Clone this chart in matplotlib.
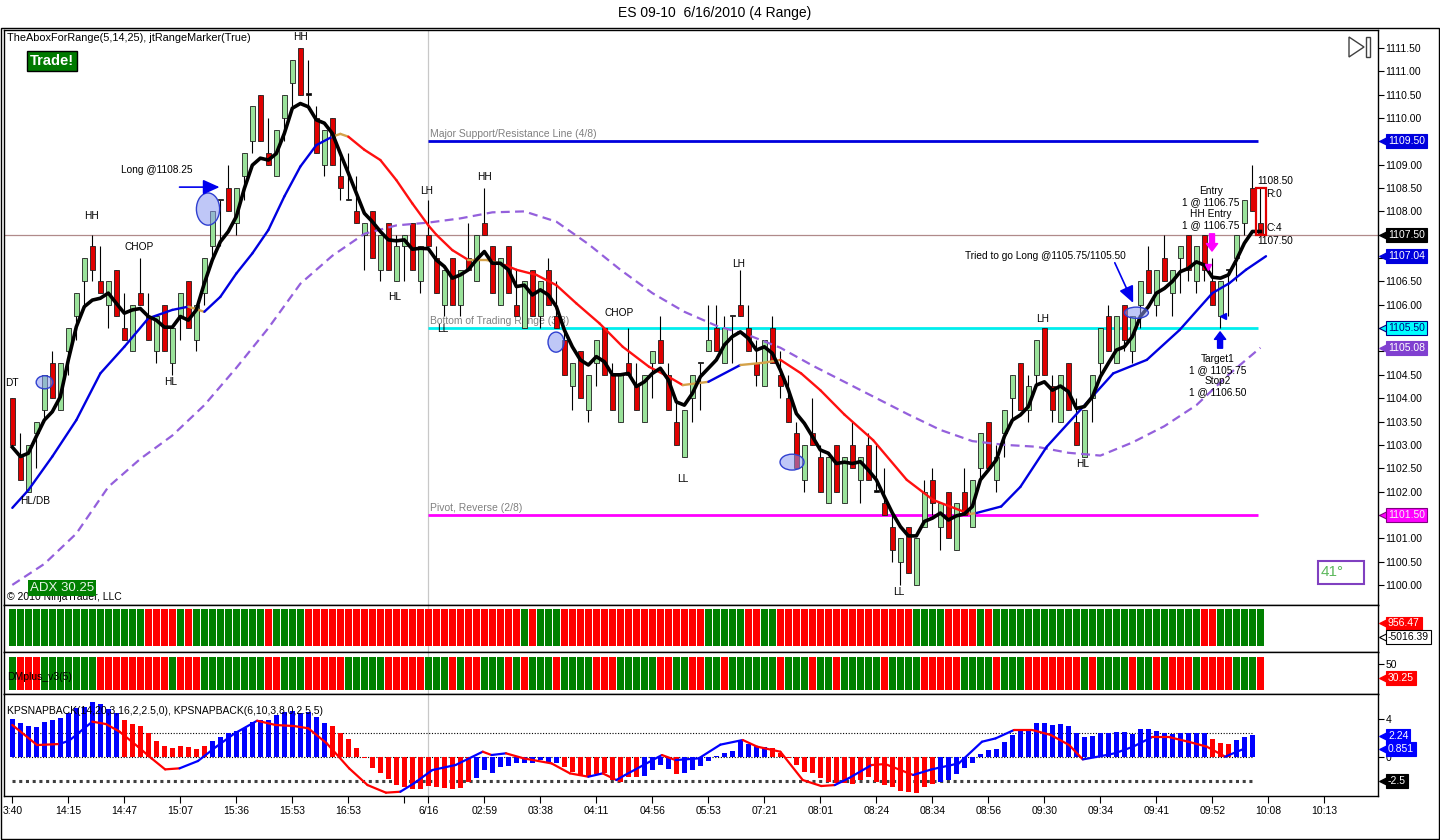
import numpy as np
import matplotlib
matplotlib.use('Agg')
import matplotlib.pyplot as plt
import matplotlib.transforms as mtransforms
from matplotlib.patches import Ellipse, Rectangle, Polygon
from matplotlib.collections import LineCollection

plt.rcParams['font.family'] = ['Liberation Sans', 'DejaVu Sans']

# ES 09-10, 4 tick range bars (bar index 0 = first bar on screen)
opens = [1104.0, 1102.75, 1102.0, 1103.25, 1103.75, 1104.75, 1103.75, 1105.0, 1105.75, 1106.5,
         1107.25, 1106.5, 1106.0, 1106.75, 1105.5, 1105.0, 1106.25, 1105.75, 1105.0, 1106.0,
         1104.75, 1105.75, 1106.5, 1105.25, 1106.25, 1107.25, 1108.25, 1108.5, 1107.75, 1108.75,
         1109.5, 1110.5, 1109.25, 1108.75, 1110.0, 1110.75, 1111.5, 1110.5, 1110.0, 1109.0,
         1110.0, 1108.75, 1108.25, 1108.0, 1107.5, 1108.0, 1106.75, 1107.75, 1106.5, 1107.25,
         1107.75, 1106.5, 1107.5, 1107.0, 1106.0, 1107.0, 1106.0, 1107.0, 1106.5, 1107.75,
         1107.25, 1106.0, 1107.25, 1106.0, 1105.5, 1106.75, 1105.75, 1106.75, 1105.75, 1105.25,
         1104.25, 1105.0, 1103.75, 1104.75, 1105.5, 1104.5, 1103.5, 1104.75, 1104.25, 1103.5,
         1104.75, 1105.25, 1104.5, 1103.5, 1102.75, 1104.0, 1104.75, 1105.0, 1105.5, 1104.75,
         1105.75, 1106.0, 1105.5, 1104.75, 1104.25, 1105.5, 1104.5, 1104.0, 1103.25, 1102.25,
         1103.25, 1102.75, 1101.75, 1103.0, 1101.75, 1103.0, 1102.25, 1103.0, 1102.0, 1101.75,
         1101.25, 1100.5, 1101.25, 1100.0, 1101.25, 1102.25, 1101.25, 1102.0, 1100.75, 1102.0,
         1101.25, 1102.5, 1103.5, 1102.25, 1103.25, 1104.0, 1104.75, 1103.75, 1104.5, 1105.5,
         1104.25, 1103.5, 1104.75, 1103.5, 1102.75, 1104.0, 1104.75, 1105.75, 1104.75, 1106.0,
         1105.0, 1106.0, 1106.75, 1106.0, 1107.0, 1106.25, 1107.0, 1107.5, 1106.5, 1107.5,
         1106.5, 1105.75, 1106.75, 1107.0, 1107.75, 1108.5, 1107.75]
highs = [1104.0, 1103.25, 1103.0, 1103.5, 1104.5, 1105.0, 1104.75, 1105.5, 1106.25, 1107.0,
         1107.5, 1107.25, 1106.5, 1106.75, 1106.25, 1106.0, 1107.0, 1106.25, 1105.75, 1106.0,
         1105.5, 1106.25, 1106.5, 1106.0, 1107.0, 1108.0, 1108.25, 1109.0, 1108.5, 1109.25,
         1110.25, 1110.5, 1110.0, 1109.75, 1110.5, 1111.25, 1111.5, 1111.25, 1110.25, 1109.75,
         1110.0, 1109.25, 1109.25, 1108.75, 1107.75, 1108.0, 1107.5, 1107.75, 1107.5, 1107.5,
         1107.75, 1107.25, 1108.25, 1107.25, 1106.75, 1107.0, 1106.75, 1107.75, 1107.5, 1108.5,
         1107.25, 1107.0, 1107.25, 1106.75, 1106.5, 1106.75, 1106.5, 1107.0, 1106.5, 1105.5,
         1104.75, 1105.0, 1104.5, 1105.25, 1105.5, 1104.75, 1104.5, 1105.5, 1104.75, 1104.5,
         1105.0, 1105.75, 1104.75, 1104.0, 1103.75, 1104.5, 1104.75, 1106.0, 1106.0, 1105.75,
         1105.75, 1106.75, 1106.0, 1105.25, 1105.25, 1105.75, 1105.0, 1104.5, 1103.5, 1103.0,
         1104.0, 1103.0, 1102.75, 1103.0, 1102.75, 1103.5, 1102.75, 1103.25, 1103.0, 1102.5,
         1101.5, 1101.0, 1101.25, 1101.0, 1102.25, 1102.5, 1101.75, 1102.0, 1101.75, 1102.5,
         1102.25, 1103.25, 1103.5, 1103.0, 1103.75, 1104.5, 1104.75, 1104.5, 1105.25, 1105.5,
         1104.5, 1104.5, 1104.75, 1104.0, 1103.75, 1104.5, 1105.5, 1106.0, 1105.75, 1106.0,
         1105.75, 1106.5, 1107.25, 1106.75, 1107.5, 1106.75, 1107.25, 1107.5, 1107.25, 1107.5,
         1107.0, 1106.5, 1106.75, 1107.5, 1108.25, 1109.0, 1108.5]
lows = [1103.0, 1102.25, 1102.0, 1102.5, 1103.5, 1104.0, 1103.75, 1104.5, 1105.25, 1106.0,
        1106.5, 1106.25, 1105.5, 1105.75, 1105.25, 1105.0, 1106.0, 1105.25, 1104.75, 1105.0,
        1104.5, 1105.25, 1105.5, 1105.0, 1106.0, 1107.0, 1107.25, 1108.0, 1107.5, 1108.25,
        1109.25, 1109.5, 1109.0, 1108.75, 1109.5, 1110.25, 1110.5, 1110.25, 1109.25, 1108.75,
        1109.0, 1108.25, 1108.25, 1107.75, 1106.75, 1107.0, 1106.5, 1106.75, 1106.5, 1106.5,
        1106.75, 1106.25, 1107.25, 1106.25, 1105.75, 1106.0, 1105.75, 1106.75, 1106.5, 1107.5,
        1106.25, 1106.0, 1106.25, 1105.75, 1105.5, 1105.75, 1105.5, 1106.0, 1105.5, 1104.5,
        1103.75, 1104.0, 1103.5, 1104.25, 1104.5, 1103.75, 1103.5, 1104.5, 1103.75, 1103.5,
        1104.0, 1104.75, 1103.75, 1103.0, 1102.75, 1103.5, 1103.75, 1105.0, 1105.0, 1104.75,
        1104.75, 1105.75, 1105.0, 1104.25, 1104.25, 1104.75, 1104.0, 1103.5, 1102.5, 1102.0,
        1103.0, 1102.0, 1101.75, 1102.0, 1101.75, 1102.5, 1101.75, 1102.25, 1102.0, 1101.5,
        1100.5, 1100.0, 1100.25, 1100.0, 1101.25, 1101.5, 1100.75, 1101.0, 1100.75, 1101.5,
        1101.25, 1102.25, 1102.5, 1102.0, 1102.75, 1103.5, 1103.75, 1103.5, 1104.25, 1104.5,
        1103.5, 1103.5, 1103.75, 1103.0, 1102.75, 1103.5, 1104.5, 1105.0, 1104.75, 1105.0,
        1104.75, 1105.5, 1106.25, 1105.75, 1106.5, 1105.75, 1106.25, 1106.5, 1106.25, 1106.5,
        1106.0, 1105.5, 1105.75, 1106.5, 1107.5, 1108.0, 1107.5]
closes = [1103.0, 1102.25, 1103.0, 1103.5, 1104.5, 1104.0, 1104.75, 1105.5, 1106.25, 1107.0,
          1106.75, 1106.25, 1106.5, 1105.75, 1105.25, 1106.0, 1106.0, 1105.25, 1105.75, 1105.0,
          1105.5, 1106.25, 1105.5, 1106.0, 1107.0, 1108.0, 1108.25, 1108.0, 1108.5, 1109.25,
          1110.25, 1109.5, 1109.0, 1109.75, 1110.5, 1111.25, 1110.5, 1110.5, 1109.25, 1109.75,
          1109.0, 1108.5, 1108.25, 1107.75, 1107.75, 1107.0, 1107.5, 1106.75, 1107.25, 1107.5,
          1106.75, 1107.25, 1107.25, 1106.25, 1106.75, 1106.0, 1106.75, 1106.75, 1107.5, 1107.5,
          1106.25, 1107.0, 1106.25, 1105.75, 1106.5, 1105.75, 1106.5, 1106.0, 1105.5, 1104.5,
          1104.75, 1104.0, 1104.5, 1105.25, 1104.5, 1103.75, 1104.5, 1104.5, 1103.75, 1104.5,
          1105.0, 1104.75, 1103.75, 1103.0, 1103.75, 1104.5, 1104.75, 1105.25, 1105.0, 1105.5,
          1105.75, 1105.75, 1105.0, 1104.5, 1105.25, 1104.75, 1104.25, 1103.5, 1102.5, 1103.0,
          1103.0, 1102.0, 1102.75, 1102.0, 1102.75, 1102.5, 1102.75, 1102.25, 1102.0, 1101.5,
          1100.75, 1101.0, 1100.25, 1101.0, 1102.0, 1101.75, 1101.75, 1101.0, 1101.75, 1101.5,
          1102.25, 1103.25, 1102.5, 1102.75, 1103.75, 1104.5, 1103.75, 1104.25, 1105.25, 1104.5,
          1103.75, 1104.5, 1103.75, 1103.0, 1103.75, 1104.5, 1105.5, 1105.0, 1105.75, 1105.25,
          1105.75, 1106.5, 1106.25, 1106.75, 1106.5, 1106.75, 1107.25, 1106.75, 1107.25, 1106.75,
          1106.0, 1106.5, 1106.75, 1107.5, 1108.25, 1108.0, 1107.5]

# black fast line (5), one value per bar
fast_ma = [1102.95, 1102.75, 1102.82, 1103.18, 1103.53, 1103.71, 1104.03, 1104.82, 1105.53, 1105.96,
           1106.10, 1106.14, 1106.25, 1106.03, 1105.82, 1105.89, 1105.92, 1105.75, 1105.67, 1105.52,
           1105.52, 1105.75, 1105.67, 1105.89, 1106.46, 1106.96, 1107.35, 1107.57, 1107.89, 1108.49,
           1108.99, 1109.14, 1109.10, 1109.24, 1109.67, 1110.21, 1110.31, 1110.24, 1109.96, 1109.89,
           1109.67, 1109.24, 1108.82, 1108.39, 1107.96, 1107.78, 1107.57, 1107.39, 1107.37, 1107.39,
           1107.19, 1107.21, 1107.20, 1106.96, 1106.82, 1106.57, 1106.64, 1106.75, 1106.96, 1107.14,
           1106.89, 1106.89, 1106.75, 1106.39, 1106.42, 1106.21, 1106.32, 1106.21, 1105.96, 1105.46,
           1105.10, 1104.82, 1104.71, 1104.89, 1104.78, 1104.50, 1104.50, 1104.53, 1104.25, 1104.35,
           1104.53, 1104.64, 1104.39, 1103.92, 1103.85, 1104.10, 1104.46, 1104.64, 1104.82, 1105.14,
           1105.32, 1105.42, 1105.28, 1105.03, 1105.10, 1104.96, 1104.60, 1104.18, 1103.67, 1103.46,
           1103.18, 1102.89, 1102.82, 1102.60, 1102.63, 1102.60, 1102.64, 1102.46, 1102.25, 1101.89,
           1101.54, 1101.25, 1101.05, 1101.05, 1101.36, 1101.43, 1101.54, 1101.39, 1101.48, 1101.52,
           1101.68, 1102.25, 1102.46, 1102.68, 1103.18, 1103.53, 1103.64, 1103.82, 1104.28, 1104.35,
           1104.17, 1104.26, 1104.14, 1103.78, 1103.82, 1104.03, 1104.46, 1104.75, 1105.03, 1105.10,
           1105.32, 1105.75, 1105.96, 1106.25, 1106.35, 1106.50, 1106.71, 1106.78, 1106.92, 1106.85,
           1106.59, 1106.57, 1106.64, 1106.96, 1107.32, 1107.57, 1107.57]

# 14 line, coloured by trend state
trend_x = [0, 2, 5, 8, 11, 14, 17, 20, 22, 24, 26, 28, 30, 32, 34, 36, 38, 40, 41, 42, 44, 46, 48, 50,
           52, 53, 55, 57, 59.3, 61.6, 63, 65.5, 68, 70.5, 73.4, 76.3, 79.6, 82, 83.8, 87, 91, 94, 96,
           98.6, 101, 104, 107.6, 111.8, 115.1, 117.2, 119.7, 120.5, 123.6, 126, 129.3, 133.5, 137.6,
           141.8, 145.9, 150, 152.1, 154.2, 156.7]
trend_y = [1101.65, 1102.03, 1102.75, 1103.53, 1104.53, 1105.10, 1105.71, 1105.89, 1105.96, 1105.85,
           1106.17, 1106.67, 1107.10, 1107.60, 1108.32, 1108.96, 1109.42, 1109.60, 1109.66, 1109.60,
           1109.32, 1109.10, 1108.67, 1108.17, 1107.70, 1107.50, 1107.17, 1106.96, 1106.96, 1106.85,
           1106.75, 1106.64, 1106.42, 1106.03, 1105.60, 1105.10, 1104.67, 1104.46, 1104.28, 1104.35,
           1104.71, 1104.76, 1104.82, 1104.53, 1104.17, 1103.65, 1103.10, 1102.25, 1101.82, 1101.68,
           1101.52, 1101.54, 1101.68, 1102.10, 1102.96, 1103.75, 1104.53, 1104.82, 1105.46, 1106.25,
           1106.46, 1106.75, 1107.04]
trend_turns = [21, 24, 40, 42, 57, 62, 84, 87, 91, 96, 119.7, 120.5]
trend_modes = ['up', 'flat', 'up', 'flat', 'down', 'flat', 'down', 'flat', 'up', 'flat', 'down', 'flat', 'up']

# slow dashed line
slow_x = [0, 4, 8, 12, 16, 20, 24, 28, 32, 36, 40, 44, 48, 52, 56, 60, 64, 68, 72, 76, 80, 84, 88, 92,
          96, 100, 104, 108, 112, 116, 120, 124, 128, 132, 136, 140, 144, 148, 152, 156]
slow_y = [1100.0, 1100.45, 1101.1, 1102.1, 1102.7, 1103.2, 1103.85, 1104.65, 1105.5, 1106.45,
          1107.05, 1107.52, 1107.7, 1107.76, 1107.85, 1107.98, 1108.0, 1107.78, 1107.3, 1106.75,
          1106.25, 1105.85, 1105.55, 1105.35, 1105.08, 1104.7, 1104.35, 1104.0, 1103.65, 1103.32,
          1103.08, 1103.0, 1102.96, 1102.83, 1102.77, 1103.05, 1103.4, 1103.85, 1104.5, 1105.08]

session_bar = 52
levels = [1109.5, 1105.5, 1101.5]
level_names = ['Major Support/Resistance Line (4/8)', 'Bottom of Trading Range (3/8)', 'Pivot, Reverse (2/8)']
level_colors = ['#0000dd', '#00eeee', '#ff00ff']
last_price = 1107.5

tick_bars = [0, 7, 14, 21, 28, 35, 42, 49, 52, 59, 66, 73, 80, 87, 94, 101, 108, 115, 122, 129, 136, 143, 150, 157, 164]
tick_labels = ['3:40', '14:15', '14:47', '15:07', '15:36', '15:53', '16:53', '', '6/16', '02:59', '03:38',
               '04:11', '04:56', '05:53', '07:21', '08:01', '08:24', '08:34', '08:56', '09:30', '09:34',
               '09:41', '09:52', '10:08', '10:13']

# green(1) / red(0) runs of the two colour-bar panels
trend_bar_runs = [(1, 17), (0, 4), (1, 1), (0, 1), (1, 9), (0, 1), (1, 4), (0, 27), (1, 1), (0, 1), (1, 3),
                  (0, 18), (1, 5), (0, 2), (1, 2), (0, 17), (1, 4), (0, 4), (1, 1), (0, 1), (1, 26), (0, 2), (1, 6)]
dm_runs = [(1, 1), (0, 3), (1, 7), (0, 9), (1, 1), (0, 3), (1, 8), (0, 2), (1, 3), (0, 5), (1, 5), (0, 5),
           (1, 3), (0, 1), (1, 1), (0, 2), (1, 3), (0, 1), (1, 1), (0, 1), (1, 3), (0, 1), (1, 4), (0, 3),
           (1, 5), (0, 2), (1, 2), (0, 2), (1, 2), (0, 1), (1, 6), (0, 1), (1, 3), (0, 1), (1, 2), (0, 1),
           (1, 5), (0, 1), (1, 4), (0, 5), (1, 4), (0, 1), (1, 3), (0, 7), (1, 1), (0, 1), (1, 4), (0, 1),
           (1, 2), (0, 1), (1, 1), (0, 3), (1, 1), (0, 4), (1, 3), (0, 1)]

# KPSNAPBACK histogram and line
snap_hist = [4.0, 3.54, 3.26, 3.19, 3.68, 3.89, 4.07, 4.6, 5.2, 5.3,
             5.8, 5.6, 5.1, 4.6, 3.9, 3.47, 3.26, 2.5, 1.68, 1.19,
             0.98, 1.16, 1.09, 0.84, 1.16, 1.72, 2.14, 2.49, 2.74, 3.09,
             3.72, 3.89, 3.89, 4.42, 4.77, 4.84, 4.67, 4.77, 4.25, 3.6,
             3.26, 2.56, 1.86, 0.91, -0.1, -1.19, -1.72, -2.35, -2.95, -3.12,
             -3.33, -3.4, -3.05, -3.19, -3.3, -3.4, -3.23, -2.6, -2.25, -1.37,
             -1.72, -1.02, -0.95, -0.67, -0.6, -0.67, -0.32, -0.49, -0.6, -1.02,
             -1.54, -2.0, -2.07, -1.79, -1.72, -2.42, -2.6, -2.07, -2.14, -2.0,
             -1.37, -0.84, -1.3, -1.79, -1.72, -1.37, -0.95, -0.39, 0.1, 0.4,
             0.67, 1.72, 1.37, 1.16, 1.09, 0.9, 0.4, -0.1, -0.84, -1.54,
             -1.65, -2.25, -2.6, -2.77, -2.7, -2.84, -2.42, -2.14, -2.6, -2.95,
             -3.19, -3.54, -3.65, -3.75, -3.12, -2.84, -2.6, -2.42, -1.79, -1.19,
             -0.6, 0.32, 0.74, 0.81, 1.61, 2.32, 2.77, 2.91, 3.54, 3.61,
             3.37, 3.47, 3.26, 2.56, 2.14, 2.21, 2.49, 2.49, 2.63, 2.6,
             2.42, 2.91, 2.91, 2.77, 2.49, 2.42, 2.56, 2.56, 2.49, 2.49,
             1.86, 1.51, 1.37, 1.79, 2.14, 2.32]
snap_hist_runs = [(1, 14), (0, 11), (1, 15), (0, 18), (1, 11), (0, 10), (1, 4), (0, 1), (1, 11), (0, 21),
                  (1, 34), (0, 3), (1, 3)]
snap_line_x = [0, 3.1, 5.9, 7.1, 10.0, 11.7, 13.4, 15.7, 17.4, 19.1, 20.9, 23.2, 25.5, 27.8, 30.6, 32.9,
               35.2, 37.0, 39.3, 42.1, 44.4, 46.7, 48.5, 50.2, 52.5, 55.4, 58.8, 59.9, 61.7, 63.9, 67.4,
               69.7, 72.0, 73.8, 75.5, 76.6, 78.9, 81.2, 82.9, 85.8, 88.5, 91.3, 93.1, 96.0, 98.8, 101.1,
               102.8, 104.5, 107.4, 109.1, 112.6, 114.9, 118.3, 121.2, 122.9, 125.2, 127.5, 129.8, 132.1,
               133.8, 136.1, 137.8, 140.1, 142.4, 144.7, 147.0, 149.3, 151.6, 153.9]
snap_line_y = [3.37, 1.26, 1.37, 1.72, 3.72, 3.47, 2.67, 1.09, -0.14, -1.30, -1.19, -0.42, 1.09, 2.49,
               3.82, 3.37, 3.26, 3.02, 1.44, -1.19, -2.95, -3.75, -3.65, -2.77, -1.37, -0.84, 0.56, 0.21,
               0.39, -0.14, -0.67, -1.72, -2.07, -1.72, -2.42, -1.89, -0.84, 0.21, -0.32, -0.14, 1.30,
               1.79, 1.09, 0.56, -2.42, -3.05, -2.95, -2.25, -0.84, -0.74, -1.89, -1.30, -0.67, 1.61,
               1.96, 2.84, 2.84, 2.32, 1.26, -0.25, 0.10, 0.39, 1.09, 2.07, 2.07, 1.61, 1.09, 0.04, 0.85]

# chart notes (bar index, price)
marks_text = ['HH', 'HH', 'CHOP', 'HL', 'DT', 'HL/DB', 'LH', 'HH', 'HL', 'LL', 'CHOP', 'LH', 'LL', 'LL', 'LH', 'HL']
marks_x = [35.96, 9.84, 15.84, 19.84, 0.0, 2.84, 51.8, 58.96, 47.8, 53.8, 75.8, 90.8, 83.8, 110.8, 128.8, 133.8]
marks_y = [1111.74, 1107.90, 1107.24, 1104.35, 1104.33, 1101.80, 1108.44, 1108.74, 1106.17, 1105.48,
           1105.83, 1106.87, 1102.27, 1099.85, 1105.70, 1102.59]
notes_text = ['Long @1108.25', 'Tried to go Long @1105.75/1105.50',
              'Entry\n1 @ 1106.75\nHH Entry\n1 @ 1106.75', 'Target1\n1 @ 1105.75\nStop2\n1 @ 1106.50']
notes_x = [18.1, 129.1, 149.8, 150.7]
notes_y = [1108.89, 1107.05, 1108.07, 1104.48]
circle_x = [24.46, 4.03, 67.96, 97.46, 140.5]
circle_y = [1108.05, 1104.34, 1105.2, 1102.63, 1105.83]
circle_w = [2.9, 2.1, 2.0, 3.0, 3.0]
circle_h = [0.69, 0.28, 0.43, 0.34, 0.24]

up_green, down_red = '#008000', '#ff0000'


def expand(runs):
    out = []
    for state, n in runs:
        out += [state] * n
    return out


fig = plt.figure(figsize=(14.4, 8.4), dpi=100)


def px(x, y):
    return x / 1440, 1 - y / 840


def panel(x0, y0, x1, y1):
    return fig.add_axes([x0 / 1440, 1 - y1 / 840, (x1 - x0) / 1440, (y1 - y0) / 840])


ax = panel(4, 30, 1378, 605)
ax1 = panel(4, 605, 1378, 652)
ax2 = panel(4, 652, 1378, 694)
ax3 = panel(4, 694, 1378, 796)

for a in (ax, ax1, ax2, ax3):
    a.set_xlim(-1.04, 170.7)
    a.axvline(session_bar, color='#c8c8c8', lw=0.9, zorder=0.5)
    for s in a.spines.values():
        s.set_color('black')
        s.set_linewidth(1)
    a.tick_params(axis='x', bottom=False, labelbottom=False)
    a.tick_params(axis='y', left=False, labelleft=False, right=True, labelright=True,
                  labelsize=7.5, length=4, width=0.8, pad=1.5)


def price_tag(a, y, text, fc, tc='white', ec=None):
    tr = mtransforms.blended_transform_factory(a.transAxes, a.transData)
    a.plot([1 + 6 / 1374], [y], marker='<', ms=7, color=fc, mec=ec or fc, mew=0.8,
           transform=tr, clip_on=False, zorder=20)
    a.text(1 + 10 / 1374, y, text, transform=tr, ha='left', va='center', fontsize=7.5, color=tc,
           zorder=21, clip_on=False,
           bbox=dict(boxstyle='square,pad=0.18', fc=fc, ec=ec or fc, lw=0.8))


# ---- price panel
bars = np.arange(len(closes))
o, h, l, c = (np.array(v) for v in (opens, highs, lows, closes))
body_col = ['#9ae29a' if cc > oo else ('#e00000' if cc < oo else 'black') for oo, cc in zip(o, c)]
ax.vlines(bars, l, h, color='black', lw=0.8, zorder=2)
ax.bar(bars, np.maximum(np.abs(c - o), 0.025), bottom=np.minimum(o, c), width=0.62,
       color=body_col, edgecolor='#1e1e1e', linewidth=0.6, zorder=3)

ax.axhline(last_price, color='#b08a8a', lw=0.9, zorder=1)
ax.hlines(levels, session_bar, bars[-1] - 0.3, colors=level_colors, lw=2, zorder=1.5)
for lv, name in zip(levels, level_names):
    ax.text(session_bar + 0.2, lv + 0.04, name, color='#808080', fontsize=7.5, va='bottom', ha='left', zorder=1.6)

ax.plot(slow_x, slow_y, color='#9460dc', lw=1.6, ls=(0, (4, 2.4)), zorder=4)

mode_colors = {'up': '#0000e0', 'flat': '#d4a24a', 'down': '#ff1010'}
segs, cols = [], []
for k in range(len(trend_x) - 1):
    mid = (trend_x[k] + trend_x[k + 1]) / 2
    segs.append([(trend_x[k], trend_y[k]), (trend_x[k + 1], trend_y[k + 1])])
    cols.append(mode_colors[trend_modes[np.searchsorted(trend_turns, mid)]])
ax.add_collection(LineCollection(segs, colors=cols, lw=1.7, zorder=5, capstyle='round'))

ax.plot(bars, fast_ma, color='black', lw=2.6, zorder=6, solid_joinstyle='round')

for cx, cy, w, hh in zip(circle_x, circle_y, circle_w, circle_h):
    ax.add_patch(Ellipse((cx, cy), w, hh, fc=(0.55, 0.6, 0.95, 0.55), ec='#3040d0', lw=1, zorder=7))

for t, tx, ty in zip(marks_text, marks_x, marks_y):
    ax.text(tx, ty, t, ha='center', va='center', fontsize=7.3, zorder=8)
for t, tx, ty in zip(notes_text, notes_x, notes_y):
    ax.text(tx, ty, t, ha='center', va='center', fontsize=7.3, linespacing=1.15, zorder=8)

# arrows
arrow_kw = dict(arrowstyle='-|>,head_length=1.0,head_width=0.45', color='#0000ee', lw=1.2,
                shrinkA=0, shrinkB=0, mutation_scale=10)
ax.annotate('', xy=(25.9, 1108.52), xytext=(20.9, 1108.52), arrowprops=arrow_kw, zorder=8)
ax.annotate('', xy=(140.1, 1106.04), xytext=(137.8, 1106.9), arrowprops=arrow_kw, zorder=8)
fat = 'simple,head_length=0.6,head_width=0.9,tail_width=0.4'
ax.annotate('', xy=(149.95, 1107.15), xytext=(149.95, 1107.52),
            arrowprops=dict(arrowstyle=fat, color='#ff00ff', mutation_scale=9, shrinkA=0, shrinkB=0), zorder=8)
ax.annotate('', xy=(150.96, 1105.42), xytext=(150.96, 1105.07),
            arrowprops=dict(arrowstyle=fat, color='#0000ee', mutation_scale=9, shrinkA=0, shrinkB=0), zorder=8)
ax.plot([149.5], [1106.81], marker='v', ms=4.5, color='#ff00ff', zorder=8)
ax.plot([151.3], [1105.76], marker='<', ms=4.5, color='#0000ee', zorder=8)

# range marker on the last bar
ax.add_patch(Rectangle((155.45, 1107.5), 1.25, 1.0, fill=False, ec='#e00000', lw=1.6, zorder=8))
ax.text(155.6, 1108.65, '1108.50', fontsize=7.3, va='center', ha='left', zorder=8)
ax.text(156.75, 1108.37, 'R:0', fontsize=7.3, va='center', ha='left', zorder=8)
ax.text(156.75, 1107.65, 'C:4', fontsize=7.3, va='center', ha='left', zorder=8)
ax.text(155.6, 1107.37, '1107.50', fontsize=7.3, va='center', ha='left', zorder=8)

ax.set_ylim(1099.57, 1111.885)
tag_values = levels + [last_price, trend_y[-1], slow_y[-1]]
yt = np.arange(1100, 1111.51, 0.5)
ax.set_yticks(yt)
# labels sitting under a value tag are covered by it
ax.set_yticklabels(['' if min(abs(v - t) for t in tag_values) < 0.2 else f'{v:.2f}' for v in yt])

price_tag(ax, levels[0], f'{levels[0]:.2f}', '#0000dd')
price_tag(ax, last_price, f'{last_price:.2f}', 'black')
price_tag(ax, trend_y[-1], f'{trend_y[-1]:.2f}', '#0000dd')
price_tag(ax, levels[1], f'{levels[1]:.2f}', '#00ffff', tc='#000080', ec='#000080')
price_tag(ax, slow_y[-1], f'{slow_y[-1]:.2f}', '#8040d0')
price_tag(ax, levels[2], f'{levels[2]:.2f}', '#ff00ff', tc='#f4f4f4', ec='#800080')

# ---- colour bar panels
tb = expand(trend_bar_runs)
ax1.bar(bars, 0.78, bottom=0.13, width=0.82, color=[up_green if s else down_red for s in tb], zorder=2)
ax1.set_ylim(0, 1)
ax1.set_yticks([])
price_tag(ax1, 0.609, '956.47', '#ff0000')
price_tag(ax1, 0.326, '-5016.39', 'white', tc='black', ec='black')

dm = expand(dm_runs)
ax2.bar(bars, 0.785, bottom=0.095, width=0.82, color=[up_green if s else down_red for s in dm], zorder=2)
ax2.set_ylim(0, 1)
ax2.set_yticks([0.714])
ax2.set_yticklabels(['50'])
ax2.text(0.002, 0.4, 'DMplus_v3(5)', transform=ax2.transAxes, fontsize=7.5, va='center', zorder=5)
price_tag(ax2, 0.381, '30.25', '#ff0000')

# ---- KPSNAPBACK panel
hb = expand(snap_hist_runs)
hx = np.arange(len(snap_hist))
ax3.hlines([2.5, 0], 0, hx[-1], colors='black', linestyles=(0, (1, 1.5)), lw=0.8, zorder=1)
ax3.hlines(-2.5, 0, hx[-1], colors='#404040', linestyles=(0, (1, 1.2)), lw=2.2, zorder=1)
ax3.bar(hx, snap_hist, width=0.62, color=['#0000ff' if s else '#ff0000' for s in hb], zorder=2)
segs, cols = [], []
for k in range(len(snap_line_x) - 1):
    segs.append([(snap_line_x[k], snap_line_y[k]), (snap_line_x[k + 1], snap_line_y[k + 1])])
    cols.append('#0000ff' if snap_line_y[k + 1] - snap_line_y[k] > 0.12 else '#ff0000')
ax3.add_collection(LineCollection(segs, colors=cols, lw=1.6, zorder=3, capstyle='round'))
ax3.set_ylim(-4.1, 6.63)
ax3.set_yticks([4, 0])
ax3.set_yticklabels(['4', '0'])
ax3.text(0.002, 0.83, 'KPSNAPBACK(14,20,3,16,2,2.5,0), KPSNAPBACK(6,10,3,8,0,2.5,5)',
         transform=ax3.transAxes, fontsize=7.5, va='center', zorder=5)
price_tag(ax3, snap_hist[-1] - 0.08, '2.24', '#0000ff')
price_tag(ax3, snap_line_y[-1], '0.851', '#0000ff')
price_tag(ax3, -2.5, '-2.5', 'black')

ax3.set_xticks(tick_bars)
ax3.set_xticklabels(tick_labels)
ax3.tick_params(axis='x', bottom=True, labelbottom=True, length=5, width=0.8, labelsize=7.5, pad=2)

# ---- figure furniture
fig.patches.append(Rectangle((0.0004, 0.0008), 0.9992, 1 - 28 / 840 - 0.0008, transform=fig.transFigure,
                             fill=False, ec='black', lw=1))
fig.text(*px(715, 13), 'ES 09-10  6/16/2010 (4 Range)', ha='center', va='center', fontsize=10)
fig.text(*px(7, 38), 'TheAboxForRange(5,14,25), jtRangeMarker(True)', fontsize=7.8, va='center')
fig.text(*px(52, 61), 'Trade!', ha='center', va='center', fontsize=10.5, weight='bold', color='white',
         bbox=dict(boxstyle='square,pad=0.2', fc='#007a00', ec='black', lw=1))
fig.text(*px(7, 597), '\u00a9 2010 NinjaTrader, LLC', fontsize=7.5, va='center')
fig.text(*px(62, 588), 'ADX 30.25', ha='center', va='center', fontsize=9.5, color='#e8f4e8',
         bbox=dict(boxstyle='square,pad=0.15', fc='#008000', ec='none'))
fig.patches.append(Rectangle(px(1318, 584), 46 / 1440, 23 / 840, transform=fig.transFigure,
                             fill=False, ec='#8040c0', lw=1.5))
fig.text(*px(1321, 572), '41\u00b0', fontsize=11, color='#5cb85c', va='center', ha='left')
fig.patches.append(Polygon([px(1349, 37), px(1364, 47), px(1349, 57)], closed=True, fill=False,
                           ec='#404040', lw=1, transform=fig.transFigure))
fig.patches.append(Rectangle(px(1366, 57), 4 / 1440, 20 / 840, transform=fig.transFigure,
                             fill=False, ec='#404040', lw=1))

fig.savefig('out.png', dpi=100, facecolor='white')
